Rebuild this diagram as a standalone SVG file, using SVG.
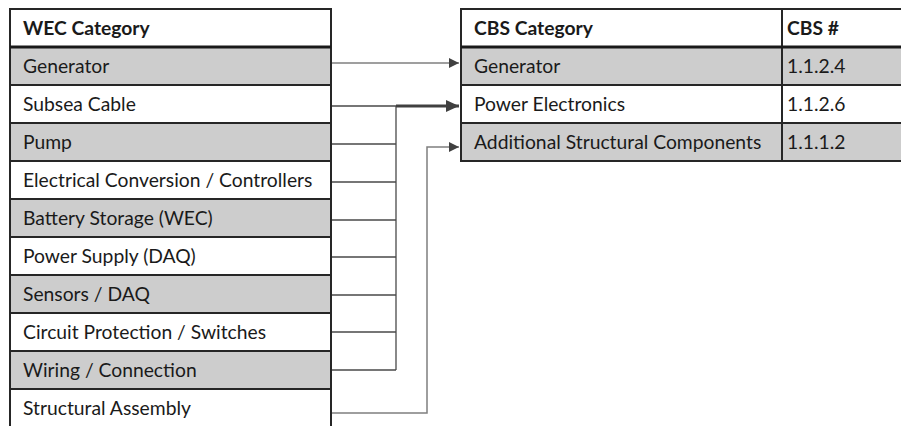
<svg xmlns="http://www.w3.org/2000/svg" width="901" height="426" viewBox="0 0 901 426">
<style>
.cell{stroke:#262626;stroke-width:2}
.g{fill:#cdcdcd}
.w{fill:#ffffff}
.t{font-family:Lato,"Open Sans","Liberation Sans",sans-serif;font-size:19.3px;fill:#1a1a1a}
.b{font-weight:bold}
.c{fill:none;stroke:#4a4a4a;stroke-width:1.3}
.cl{fill:none;stroke:#7f7f7f;stroke-width:1.5}
.ct{fill:none;stroke:#404040;stroke-width:3}
</style>
<defs>
<marker id="ah" markerWidth="10" markerHeight="10" refX="10" refY="5" orient="auto" markerUnits="userSpaceOnUse" viewBox="0 0 10 10">
<path d="M0,0 L10,5 L0,10 Z" fill="#404040"/>
</marker>
<marker id="ahb" markerWidth="13" markerHeight="12" refX="13" refY="6" orient="auto" markerUnits="userSpaceOnUse" viewBox="0 0 13 12">
<path d="M0,0 L13,6 L0,12 Z" fill="#404040"/>
</marker>
</defs>
<rect width="901" height="426" fill="#ffffff"/>

<g id="wec-table">
<g id="wec-header"><rect class="cell w" x="10" y="9" width="321" height="38"/><text class="t b" x="23" y="35">WEC Category</text></g>
<g id="wec-generator"><rect class="cell g" x="10" y="47" width="321" height="38"/><text class="t" x="23" y="73">Generator</text></g>
<g id="wec-subsea"><rect class="cell w" x="10" y="85" width="321" height="38"/><text class="t" x="23" y="111">Subsea Cable</text></g>
<g id="wec-pump"><rect class="cell g" x="10" y="123" width="321" height="38"/><text class="t" x="23" y="149">Pump</text></g>
<g id="wec-elec"><rect class="cell w" x="10" y="161" width="321" height="38"/><text class="t" x="23" y="187">Electrical Conversion / Controllers</text></g>
<g id="wec-battery"><rect class="cell g" x="10" y="199" width="321" height="38"/><text class="t" x="23" y="225">Battery Storage (WEC)</text></g>
<g id="wec-power"><rect class="cell w" x="10" y="237" width="321" height="38"/><text class="t" x="23" y="263">Power Supply (DAQ)</text></g>
<g id="wec-sensors"><rect class="cell g" x="10" y="275" width="321" height="38"/><text class="t" x="23" y="301">Sensors / DAQ</text></g>
<g id="wec-circuit"><rect class="cell w" x="10" y="313" width="321" height="38"/><text class="t" x="23" y="339">Circuit Protection / Switches</text></g>
<g id="wec-wiring"><rect class="cell g" x="10" y="351" width="321" height="38"/><text class="t" x="23" y="377">Wiring / Connection</text></g>
<g id="wec-structural"><rect class="cell w" x="10" y="389" width="321" height="60"/><text class="t" x="23" y="415">Structural Assembly</text></g>
</g>

<g id="cbs-table">
<g id="cbs-header"><rect class="cell w" x="461" y="9" width="321" height="38"/><text class="t b" x="474" y="35">CBS Category</text><rect class="cell w" x="782" y="9" width="130" height="38"/><text class="t b" x="787" y="35">CBS #</text></g>
<g id="cbs-generator"><rect class="cell g" x="461" y="47" width="321" height="38"/><text class="t" x="474" y="73">Generator</text><rect class="cell g" x="782" y="47" width="130" height="38"/><text class="t" x="787" y="73">1.1.2.4</text></g>
<g id="cbs-power"><rect class="cell w" x="461" y="85" width="321" height="38"/><text class="t" x="474" y="111">Power Electronics</text><rect class="cell w" x="782" y="85" width="130" height="38"/><text class="t" x="787" y="111">1.1.2.6</text></g>
<g id="cbs-additional"><rect class="cell g" x="461" y="123" width="321" height="38"/><text class="t" x="474" y="149">Additional Structural Components</text><rect class="cell g" x="782" y="123" width="130" height="38"/><text class="t" x="787" y="149">1.1.1.2</text></g>
<line x1="10" y1="47" x2="331" y2="47" stroke="#1a1a1a" stroke-width="3"/>
<line x1="461" y1="47" x2="901" y2="47" stroke="#1a1a1a" stroke-width="3"/>
</g>

<g id="connectors">
<path class="cl" d="M332,63 H459" marker-end="url(#ah)"/>
<path class="c" d="M332,106 H396 M332,144 H396 M332,182 H396 M332,220 H396 M332,257 H396 M332,295 H396 M332,332 H396 M332,370 H396 M396,106 V370"/>
<path class="ct" d="M396,106 H459" marker-end="url(#ahb)"/>
<path class="cl" d="M332,413 H427 V147 H459" marker-end="url(#ah)"/>
</g>
</svg>
